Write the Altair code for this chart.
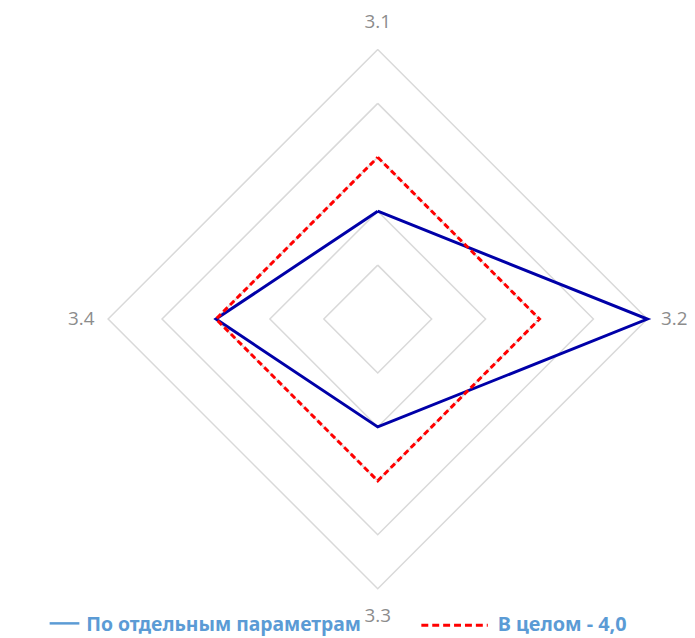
import math
import altair as alt
import pandas as pd

# ---- data ----
axis_labels = ["3.1", "3.2", "3.3", "3.4"]
series_names = ["По отдельным параметрам", "В целом - 4,0"]
values_separate = [2, 5, 2, 3]
values_overall = [3, 3, 3, 3]
grid_levels = [1, 2, 3, 4, 5]
r_max = 5

# ---- helpers ----
def angle(i):
    # 3.1 at top, clockwise
    return math.radians(90 - 360.0 * i / len(axis_labels))

def polygon(values, name):
    rows = []
    n = len(values)
    for k in range(n + 1):
        i = k % n
        a = angle(i)
        rows.append({"series": name, "order": k,
                     "x": values[i] * math.cos(a), "y": values[i] * math.sin(a)})
    return rows

grid_rows = []
for lv in grid_levels:
    for r in polygon([lv] * len(axis_labels), str(lv)):
        r["level"] = lv
        grid_rows.append(r)
grid_df = pd.DataFrame(grid_rows)

s1_df = pd.DataFrame(polygon(values_separate, series_names[0]))
s2_df = pd.DataFrame(polygon(values_overall, series_names[1]))

label_r = r_max * 1.1
lab_df = pd.DataFrame([
    {"label": lab, "x": label_r * math.cos(angle(i)), "y": label_r * math.sin(angle(i))}
    for i, lab in enumerate(axis_labels)
])

W = 544
xs = alt.Scale(domain=[-r_max, r_max], nice=False, zero=False)
ys = alt.Scale(domain=[-r_max, r_max], nice=False, zero=False)
X = lambda: alt.X("x:Q", scale=xs, axis=None)
Y = lambda: alt.Y("y:Q", scale=ys, axis=None)

grid = alt.Chart(grid_df).mark_line(color="#d9d9d9", strokeWidth=1.5).encode(
    x=X(), y=Y(), detail="level:N", order="order:Q")

line1 = alt.Chart(s1_df).mark_line(color="#0000a8", strokeWidth=3, strokeJoin="miter").encode(
    x=X(), y=Y(), order="order:Q")

line2 = alt.Chart(s2_df).mark_line(color="#ff0000", strokeWidth=3, strokeDash=[6, 3.5],
                                   strokeJoin="miter").encode(
    x=X(), y=Y(), order="order:Q")

labels = alt.Chart(lab_df).mark_text(font="Open Sans", fontSize=19, color="#8c8c8c",
                                     align="center", baseline="middle").encode(
    x=X(), y=Y(), text="label:N")

# ---- manual legend (pixel layout relative to plot origin) ----
leg_blue = alt.Chart(pd.DataFrame({"n": [series_names[0]]})).mark_rule(
    color="#5b9bd5", strokeWidth=2.5).encode(
    x=alt.value(-59), x2=alt.value(-29), y=alt.value(579))
leg_blue_t = alt.Chart(pd.DataFrame({"n": [series_names[0]]})).mark_text(
    font="Noto Sans", fontWeight="bold", fontSize=19.5, color="#5b9bd5",
    align="left", baseline="middle").encode(
    x=alt.value(-22), y=alt.value(581), text="n:N")
leg_red = alt.Chart(pd.DataFrame({"n": [series_names[1]]})).mark_rule(
    color="#ff0000", strokeWidth=3, strokeDash=[7, 4]).encode(
    x=alt.value(316), x2=alt.value(383), y=alt.value(581))
leg_red_t = alt.Chart(pd.DataFrame({"n": [series_names[1]]})).mark_text(
    font="Noto Sans", fontWeight="bold", fontSize=20, color="#5b9bd5",
    align="left", baseline="middle").encode(
    x=alt.value(393), y=alt.value(581), text="n:N")

chart = alt.layer(grid, line1, line2, labels, leg_blue, leg_blue_t, leg_red, leg_red_t).properties(
    width=W, height=W,
    autosize=alt.AutoSizeParams(type="none"),
    padding={"left": 101, "top": 39, "right": 40, "bottom": 52},
    background="white",
).configure_view(stroke=None)

chart.save("out.html", embed_options={"renderer": "svg", "actions": False})
